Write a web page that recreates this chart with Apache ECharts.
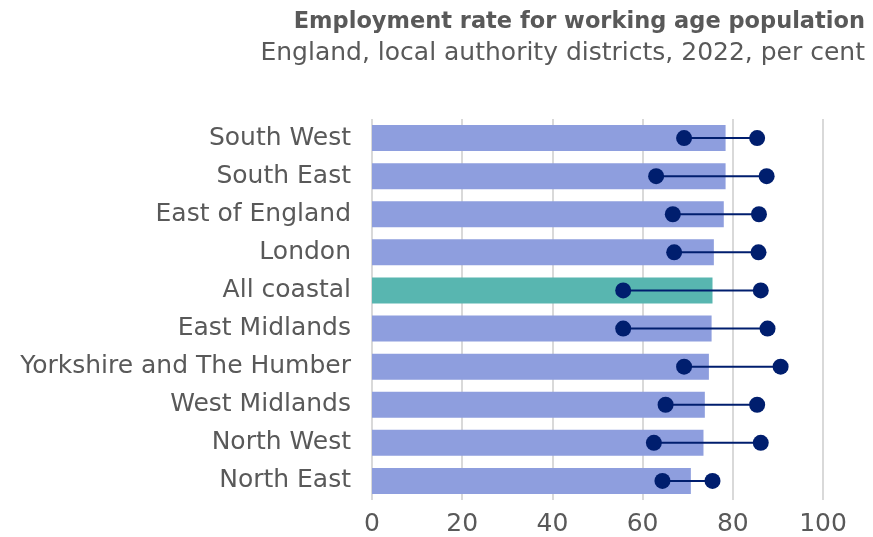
<!DOCTYPE html>
<html>
<head>
<meta charset="utf-8">
<script src="https://cdn.jsdelivr.net/npm/echarts@6/dist/echarts.min.js"></script>
<style>
html,body{margin:0;padding:0;background:#fff;}
#chart{width:873px;height:537px;}
</style>
</head>
<body>
<div id="chart"></div>
<script>
const categories = ["South West","South East","East of England","London","All coastal","East Midlands","Yorkshire and The Humber","West Midlands","North West","North East"];
const rate = [78.4, 78.4, 78.0, 75.8, 75.5, 75.3, 74.7, 73.8, 73.5, 70.7];
const minRate = [69.2, 63.0, 66.7, 67.0, 55.7, 55.7, 69.2, 65.1, 62.5, 64.4];
const maxRate = [85.4, 87.5, 85.8, 85.7, 86.2, 87.7, 90.6, 85.4, 86.2, 75.5];
const xTicks = [0, 20, 40, 60, 80, 100];
const highlight = "All coastal";

const FONT = "DejaVu Sans";
const chart = echarts.init(document.getElementById('chart'), null, {renderer:'canvas'});

const barData = rate.map((v, i) => ({
  value: v,
  itemStyle: {color: categories[i] === highlight ? '#58B6B0' : '#8E9EDE'}
}));
const rangeData = categories.map((c, i) => [i, minRate[i], maxRate[i]]);

chart.setOption({
  animation: false,
  title: [{
    text: 'Employment rate for working age population',
    right: 3, top: 6,
    textStyle: {fontFamily: FONT, fontSize: 22.5, fontWeight: 'bold', color: '#595959'}
  },{
    text: 'England, local authority districts, 2022, per cent',
    right: 3, top: 36,
    textStyle: {fontFamily: FONT, fontSize: 25, fontWeight: 'normal', color: '#595959'}
  }],
  grid: {left: 372, right: 50, top: 119, bottom: 36, containLabel: false},
  xAxis: {
    type: 'value', min: 0, max: 100, interval: 20,
    axisLine: {show: false}, axisTick: {show: false},
    splitLine: {show: true, lineStyle: {color: '#D9D9D9', width: 2}},
    axisLabel: {fontFamily: FONT, fontSize: 25, color: '#595959', margin: 12,
      formatter: v => xTicks.includes(v) ? String(v) : ''}
  },
  yAxis: {
    type: 'category', data: categories, inverse: true,
    axisLine: {show: false}, axisTick: {show: false},
    axisLabel: {fontFamily: FONT, fontSize: 25, color: '#595959', margin: 21}
  },
  series: [{
    type: 'bar', data: barData, barWidth: 26, z: 1
  },{
    type: 'custom', z: 3,
    data: rangeData,
    encode: {y: 0, x: [1, 2]},
    renderItem: function (params, api) {
      const ci = api.value(0);
      const p1 = api.coord([api.value(1), ci]);
      const p2 = api.coord([api.value(2), ci]);
      const col = '#001E6E';
      return {
        type: 'group',
        children: [{
          type: 'line',
          shape: {x1: p1[0], y1: p1[1], x2: p2[0], y2: p2[1]},
          style: {stroke: col, lineWidth: 2}
        },{
          type: 'circle', shape: {cx: p1[0], cy: p1[1], r: 8}, style: {fill: col}
        },{
          type: 'circle', shape: {cx: p2[0], cy: p2[1], r: 8}, style: {fill: col}
        }]
      };
    }
  }]
});
</script>
</body>
</html>
